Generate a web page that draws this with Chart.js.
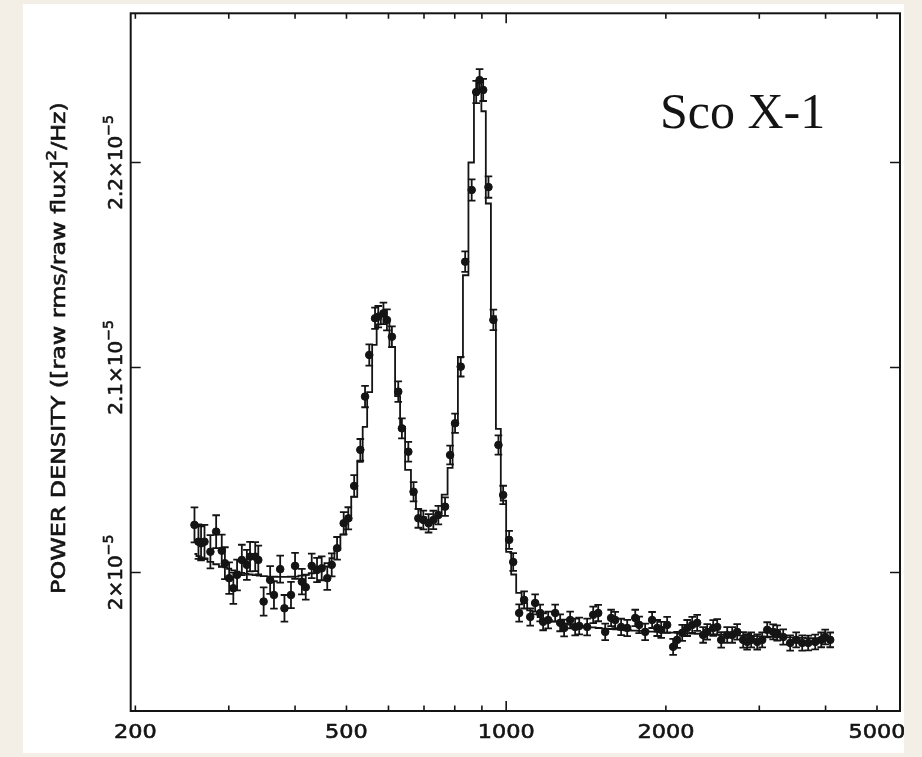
<!DOCTYPE html>
<html><head><meta charset="utf-8">
<script src="https://cdn.jsdelivr.net/npm/chart.js@4/dist/chart.umd.min.js"></script>
<style>html,body{margin:0;padding:0;background:#f3efe6;}#wrap{width:922px;height:757px;position:relative}</style>
</head><body><div id="wrap"><canvas id="c" width="922" height="757"></canvas></div>
<script>
// ---- data (frequency in Hz, power in units of 1e-5 (rms/mean)^2/Hz) ----
const freqHz = [
258.5, 263, 266, 270, 277, 284, 291, 295, 300.5, 306,
311, 317.5, 324.5, 329, 336.5, 341, 349, 359, 365, 375,
382, 393, 400, 412, 419, 430, 440, 449, 460, 469,
480, 494, 504, 517, 531, 542, 552, 566, 574, 587,
596, 609, 626, 636, 654, 669, 683, 698, 714, 729,
745, 767, 784, 801, 821, 837, 861, 878, 891, 905,
926, 946, 967, 987, 1013, 1031, 1058, 1081, 1110, 1134,
1159, 1174, 1200, 1237, 1264, 1286, 1320, 1349, 1373, 1421,
1459, 1491, 1537, 1577, 1605, 1647, 1691, 1751, 1781, 1828,
1884, 1926, 1960, 2011, 2064, 2100, 2147, 2194, 2242, 2291,
2351, 2393, 2456, 2499, 2543, 2610, 2667, 2725, 2797, 2846,
2896, 2973, 3038, 3105, 3186, 3242, 3328, 3430, 3521, 3614,
3709, 3824, 3925, 3993, 4081];
const powerE5 = [
2.0232, 2.0150, 2.0142, 2.0150, 2.0101, 2.0199, 2.0106, 2.0045, 1.9972, 1.9923,
1.9988, 2.0061, 2.0037, 2.0077, 2.0077, 2.0061, 1.9858, 1.9963, 1.9890, 2.0016,
1.9825, 1.9890, 2.0032, 1.9955, 1.9928, 2.0032, 2.0012, 2.0020, 1.9972, 2.0037,
2.0118, 2.0240, 2.0264, 2.0422, 2.0598, 2.0858, 2.1061, 2.1240, 2.1248, 2.1264,
2.1232, 2.1150, 2.0882, 2.0703, 2.0589, 2.0394, 2.0264, 2.0256, 2.0240, 2.0256,
2.0280, 2.0321, 2.0573, 2.0728, 2.1004, 2.1516, 2.1866, 2.2344, 2.2402, 2.2354,
2.1880, 2.1232, 2.0622, 2.0378, 2.0159, 2.0051, 1.9802, 1.9866, 1.9783, 1.9851,
1.9802, 1.9759, 1.9768, 1.9802, 1.9754, 1.9729, 1.9768, 1.9734, 1.9739, 1.9734,
1.9793, 1.9802, 1.9710, 1.9778, 1.9768, 1.9734, 1.9729, 1.9778, 1.9744, 1.9710,
1.9768, 1.9729, 1.9720, 1.9744, 1.9637, 1.9671, 1.9705, 1.9729, 1.9744, 1.9754,
1.9695, 1.9710, 1.9729, 1.9734, 1.9671, 1.9695, 1.9695, 1.9710, 1.9671, 1.9661,
1.9671, 1.9661, 1.9671, 1.9720, 1.9710, 1.9705, 1.9685, 1.9656, 1.9671, 1.9656,
1.9656, 1.9661, 1.9671, 1.9685, 1.9671];
const errorE5 = [
0.0085, 0.0084, 0.0083, 0.0082, 0.0081, 0.0080, 0.0079, 0.0078, 0.0077, 0.0076,
0.0075, 0.0074, 0.0073, 0.0072, 0.0071, 0.0070, 0.0069, 0.0068, 0.0067, 0.0066,
0.0065, 0.0064, 0.0063, 0.0062, 0.0061, 0.0060, 0.0059, 0.0058, 0.0057, 0.0056,
0.0055, 0.0054, 0.0054, 0.0053, 0.0053, 0.0052, 0.0052, 0.0052, 0.0052, 0.0052,
0.0051, 0.0051, 0.0050, 0.0049, 0.0048, 0.0047, 0.0046, 0.0046, 0.0045, 0.0045,
0.0045, 0.0045, 0.0046, 0.0047, 0.0048, 0.0050, 0.0052, 0.0054, 0.0054, 0.0054,
0.0052, 0.0050, 0.0047, 0.0045, 0.0044, 0.0043, 0.0042, 0.0042, 0.0042, 0.0042,
0.0041, 0.0041, 0.0041, 0.0041, 0.0041, 0.0041, 0.0041, 0.0041, 0.0041, 0.0041,
0.0040, 0.0040, 0.0040, 0.0040, 0.0040, 0.0040, 0.0040, 0.0040, 0.0040, 0.0040,
0.0039, 0.0039, 0.0039, 0.0039, 0.0039, 0.0039, 0.0039, 0.0039, 0.0039, 0.0039,
0.0038, 0.0038, 0.0038, 0.0038, 0.0038, 0.0038, 0.0038, 0.0038, 0.0038, 0.0038,
0.0037, 0.0037, 0.0037, 0.0037, 0.0037, 0.0037, 0.0037, 0.0037, 0.0037, 0.0037,
0.0036, 0.0036, 0.0036, 0.0036, 0.0036];
const modelE5 = [
2.0090, 2.0080, 2.0073, 2.0065, 2.0052, 2.0040, 2.0030, 2.0025, 2.0018, 2.0010,
2.0004, 1.9998, 1.9993, 1.9990, 1.9987, 1.9985, 1.9982, 1.9980, 1.9979, 1.9978,
1.9978, 1.9979, 1.9980, 1.9984, 1.9988, 1.9996, 2.0008, 2.0022, 2.0045, 2.0070,
2.0110, 2.0185, 2.0255, 2.0370, 2.0540, 2.0710, 2.0880, 2.1110, 2.1210, 2.1270,
2.1230, 2.1100, 2.0860, 2.0710, 2.0500, 2.0380, 2.0310, 2.0270, 2.0255, 2.0260,
2.0290, 2.0380, 2.0510, 2.0720, 2.1050, 2.1450, 2.2000, 2.2330, 2.2400, 2.2250,
2.1800, 2.1250, 2.0700, 2.0350, 2.0100, 1.9990, 1.9900, 1.9850, 1.9815, 1.9795,
1.9782, 1.9776, 1.9768, 1.9760, 1.9755, 1.9751, 1.9746, 1.9742, 1.9739, 1.9735,
1.9732, 1.9729, 1.9726, 1.9724, 1.9722, 1.9720, 1.9718, 1.9716, 1.9715, 1.9713,
1.9711, 1.9710, 1.9709, 1.9707, 1.9706, 1.9705, 1.9704, 1.9703, 1.9702, 1.9701,
1.9700, 1.9699, 1.9698, 1.9697, 1.9696, 1.9695, 1.9694, 1.9693, 1.9692, 1.9691,
1.9690, 1.9689, 1.9688, 1.9687, 1.9686, 1.9685, 1.9684, 1.9683, 1.9682, 1.9681,
1.9680, 1.9679, 1.9678, 1.9677, 1.9676];
const UNIT = 1e-5;
const xTickValues = [200, 300, 400, 500, 600, 700, 800, 900, 1000, 2000, 3000, 4000, 5000];
const xMajorTickValues = [1000];
const xLabelValues = [200, 500, 1000, 2000, 5000];
const xLabelTexts = ['200', '500', '1000', '2000', '5000'];
const yTickValues = [2.0e-5, 2.1e-5, 2.2e-5];
const yTickMantissa = ['2', '2.1', '2.2'];
const yTickExponent = '\u22125';
const yTitleParts = ['POWER DENSITY ([raw rms/raw flux]', '2', '/Hz)'];
const sourceName = 'Sco X-1';
const xRange = [196, 5525];
const yRange = [1.9324e-5, 2.2728e-5];

// ---- drawing ----
const INK = '#141414';
const CREAM = '#f3efe6';
const LABEL_FONT = '"DejaVu Sans"';

function fillBold(ctx, t, x, y) {
  ctx.fillText(t, x, y);
  ctx.strokeText(t, x, y);
}

function drawRotatedParts(ctx, parts, xBase, yCenter, size, supSize, supRaise, sx) {
  ctx.save();
  ctx.translate(xBase, yCenter);
  ctx.rotate(-Math.PI / 2);
  ctx.scale(sx, 1);
  let total = 0;
  const widths = parts.map(([t, sup]) => {
    ctx.font = (sup ? supSize : size) + 'px ' + LABEL_FONT;
    const w = ctx.measureText(t).width; total += w; return w;
  });
  let x = -total / 2;
  ctx.textBaseline = 'alphabetic';
  ctx.textAlign = 'left';
  ctx.fillStyle = INK;
  ctx.strokeStyle = INK;
  ctx.lineWidth = 0.6;
  parts.forEach(([t, sup], i) => {
    ctx.font = (sup ? supSize : size) + 'px ' + LABEL_FONT;
    fillBold(ctx, t, x, sup ? -supRaise : 0);
    x += widths[i];
  });
  ctx.restore();
}

const figurePlugin = {
  id: 'figure',
  beforeDraw(chart) {
    const ctx = chart.ctx;
    ctx.save();
    ctx.fillStyle = CREAM;
    ctx.fillRect(0, 0, chart.width, chart.height);
    ctx.fillStyle = '#ffffff';
    ctx.fillRect(23, 4, 881, 749);
    ctx.restore();
  },
  beforeDatasetsDraw(chart) {
    const ctx = chart.ctx, xs = chart.scales.x, ys = chart.scales.y;
    ctx.save();
    ctx.strokeStyle = INK;
    ctx.lineWidth = 1.8;
    ctx.beginPath();
    freqHz.forEach((f, i) => {
      const px = xs.getPixelForValue(f);
      const lo = ys.getPixelForValue((powerE5[i] - errorE5[i]) * UNIT);
      const hi = ys.getPixelForValue((powerE5[i] + errorE5[i]) * UNIT);
      ctx.moveTo(px, lo); ctx.lineTo(px, hi);
      ctx.moveTo(px - 3.8, lo); ctx.lineTo(px + 3.8, lo);
      ctx.moveTo(px - 3.8, hi); ctx.lineTo(px + 3.8, hi);
    });
    ctx.stroke();
    ctx.restore();
  },
  afterDraw(chart) {
    const ctx = chart.ctx, xs = chart.scales.x, ys = chart.scales.y;
    const a = chart.chartArea;
    ctx.save();
    // frame
    ctx.strokeStyle = INK;
    ctx.lineWidth = 2;
    ctx.strokeRect(a.left, a.top, a.right - a.left, a.bottom - a.top);
    // ticks
    ctx.lineWidth = 1.6;
    ctx.beginPath();
    xTickValues.forEach(v => {
      const px = xs.getPixelForValue(v);
      const len = xMajorTickValues.includes(v) ? 10 : 5.5;
      ctx.moveTo(px, a.bottom); ctx.lineTo(px, a.bottom - len);
      ctx.moveTo(px, a.top); ctx.lineTo(px, a.top + len);
    });
    yTickValues.forEach(v => {
      const py = ys.getPixelForValue(v);
      ctx.moveTo(a.left, py); ctx.lineTo(a.left + 10, py);
      ctx.moveTo(a.right, py); ctx.lineTo(a.right - 10, py);
    });
    ctx.stroke();
    // x labels
    ctx.fillStyle = INK;
    ctx.strokeStyle = INK;
    ctx.lineWidth = 0.6;
    ctx.textAlign = 'center';
    ctx.textBaseline = 'alphabetic';
    ctx.font = '20px ' + LABEL_FONT;
    xLabelValues.forEach((v, i) => {
      const px = xs.getPixelForValue(v);
      ctx.save();
      ctx.translate(px, a.bottom + 27);
      ctx.scale(1.12, 1);
      fillBold(ctx, xLabelTexts[i], 0, 0);
      ctx.restore();
    });
    // y labels
    yTickValues.forEach((v, i) => {
      const py = ys.getPixelForValue(v);
      drawRotatedParts(ctx, [[yTickMantissa[i] + '\u00d710', false], [yTickExponent, true]],
        122, py, 20, 14, 9, 1.0);
    });
    // y title
    drawRotatedParts(ctx, [[yTitleParts[0], false], [yTitleParts[1], true], [yTitleParts[2], false]],
      65, 348, 20, 14, 9, 1.19);
    // source name
    ctx.fillStyle = INK;
    ctx.font = '50px "Liberation Serif"';
    ctx.textAlign = 'left';
    ctx.fillText(sourceName, 660, 128);
    // cropped right edge of the figure
    ctx.fillStyle = CREAM;
    ctx.fillRect(904, 0, chart.width - 904, chart.height);
    ctx.restore();
  }
};

new Chart(document.getElementById('c'), {
  type: 'scatter',
  data: {
    datasets: [
      {
        type: 'line',
        label: 'model',
        data: freqHz.map((f, i) => ({ x: f, y: modelE5[i] * UNIT })),
        borderColor: INK,
        borderWidth: 1.8,
        pointRadius: 0,
        stepped: 'middle',
        fill: false
      },
      {
        label: 'Sco X-1 power density',
        data: freqHz.map((f, i) => ({ x: f, y: powerE5[i] * UNIT })),
        backgroundColor: INK,
        borderColor: INK,
        pointRadius: 3.8,
        pointStyle: 'circle',
        showLine: false
      }
    ]
  },
  options: {
    responsive: false,
    animation: false,
    devicePixelRatio: 1,
    layout: { padding: { left: 130.7, right: 22, top: 13.3, bottom: 46 } },
    plugins: { legend: { display: false }, tooltip: { enabled: false } },
    scales: {
      x: { type: 'logarithmic', min: xRange[0], max: xRange[1], display: false },
      y: { type: 'linear', min: yRange[0], max: yRange[1], display: false }
    }
  },
  plugins: [figurePlugin]
});
</script>
</body></html>
